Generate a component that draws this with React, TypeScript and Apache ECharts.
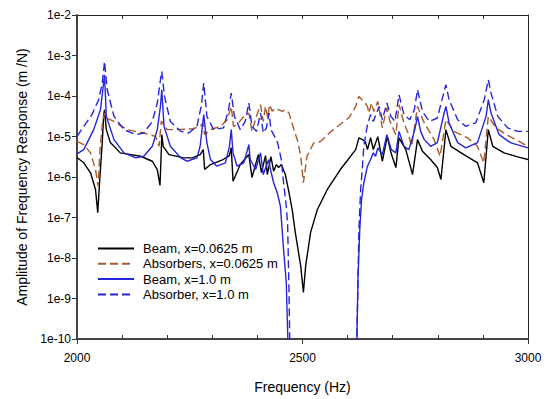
import { useEffect, useRef } from 'react';
import * as echarts from 'echarts';

const freqMin = 2000;
const freqMax = 3000;
const ampMin = 1e-10;
const ampMax = 1e-2;

const seriesNames = [
  'Beam, x=0.0625 m',
  'Absorbers, x=0.0625 m',
  'Beam, x=1.0 m',
  'Absorber, x=1.0 m',
];

// [frequency (Hz), amplitude (m/N)]
const beamNear: [number, number][] = [
  [2000, 3.02e-6], [2015, 2.24e-6], [2030, 1.27e-6], [2041, 4.92e-7], [2046, 1.32e-7], [2050, 7.2e-7],
  [2056, 7.07e-6], [2059, 3.14e-5], [2061, 4.59e-5], [2065, 1.48e-5], [2074, 7.07e-6], [2096, 3.94e-6],
  [2141, 3.25e-6], [2167, 2.45e-6], [2178, 1.53e-6], [2184, 6.18e-7], [2187, 4.75e-6], [2188, 1.11e-5],
  [2191, 5.73e-6], [2204, 3.58e-6], [2237, 2.97e-6], [2256, 2.97e-6], [2273, 3.58e-6], [2280, 4.75e-6],
  [2283, 1.53e-6], [2296, 2.03e-6], [2324, 2.7e-6], [2338, 3.38e-6], [2342, 5.32e-6], [2346, 7.89e-7],
  [2362, 2.03e-6], [2381, 3.58e-6], [2388, 9.73e-7], [2402, 3.58e-6], [2409, 1.29e-6], [2418, 3.38e-6],
  [2422, 1.15e-6], [2430, 3.2e-6], [2436, 1.39e-6], [2442, 2.03e-6], [2447, 1.71e-6], [2453, 2.03e-6],
  [2462, 1.15e-6], [2470, 4.16e-7], [2477, 1.58e-7], [2484, 4.3e-8], [2496, 6.37e-9], [2502, 1.41e-9],
  [2507, 6.37e-9], [2518, 4.3e-8], [2533, 1.58e-7], [2555, 4.92e-7], [2584, 1.53e-6], [2618, 4.75e-6],
  [2625, 9.23e-6], [2633, 8.38e-6], [2640, 7.07e-6], [2644, 4.75e-6], [2651, 9.38e-6], [2657, 4.75e-6],
  [2667, 9.93e-6], [2677, 2.45e-6], [2688, 1.01e-5], [2696, 4.01e-6], [2707, 1.71e-6], [2714, 9.23e-6],
  [2729, 4.75e-6], [2744, 1.15e-6], [2755, 8.38e-6], [2766, 4.31e-6], [2784, 2.7e-6], [2799, 1.71e-6],
  [2807, 8.67e-7], [2818, 1.48e-5], [2829, 5.73e-6], [2858, 3.58e-6], [2888, 2.24e-6], [2902, 7.2e-7],
  [2912, 1.48e-5], [2922, 5.73e-6], [2947, 3.94e-6], [2977, 3.14e-6], [3000, 2.7e-6],
];

const absorbersNear: [number, number][] = [
  [2000, 7.6e-6], [2015, 6.31e-6], [2030, 3.94e-6], [2041, 1.53e-6], [2047, 5.94e-7], [2051, 4.75e-6],
  [2056, 1.96e-5], [2061, 3.8e-5], [2066, 2.86e-5], [2082, 2.36e-5], [2111, 1.48e-5], [2148, 1.22e-5],
  [2174, 1.01e-5], [2182, 5.73e-6], [2187, 2.4e-5], [2200, 1.48e-5], [2222, 1.48e-5], [2256, 1.54e-5],
  [2273, 1.78e-5], [2279, 2.16e-5], [2283, 1.11e-5], [2296, 1.48e-5], [2318, 1.78e-5], [2333, 2.6e-5],
  [2342, 5.53e-5], [2347, 1.78e-5], [2355, 1.96e-5], [2370, 3.14e-5], [2381, 3.8e-5], [2388, 1.34e-5],
  [2399, 3.46e-5], [2407, 6.09e-5], [2413, 2.36e-5], [2418, 5.53e-5], [2423, 2.86e-5], [2427, 6.09e-5],
  [2433, 4.17e-5], [2440, 5.05e-5], [2447, 4.59e-5], [2455, 4.17e-5], [2462, 4.59e-5], [2470, 3.8e-5],
  [2481, 1.48e-5], [2489, 8.0e-6], [2496, 3.25e-6], [2502, 7.2e-7], [2510, 3.25e-6], [2525, 6.95e-6],
  [2540, 7.5e-6], [2562, 1.3e-5], [2584, 2.0e-5], [2604, 3.0e-5], [2618, 5.53e-5], [2625, 9.75e-5],
  [2636, 7.35e-5], [2644, 5.53e-5], [2647, 3.8e-5], [2653, 6.71e-5], [2658, 4.17e-5], [2667, 7.35e-5],
  [2677, 1.63e-5], [2687, 5.05e-5], [2694, 2.36e-5], [2707, 1.11e-5], [2714, 6.09e-5], [2725, 2.16e-5],
  [2734, 1.22e-5], [2742, 5.73e-6], [2755, 5.53e-5], [2770, 2.16e-5], [2792, 8.38e-6], [2805, 3.25e-6],
  [2818, 2.6e-5], [2836, 1.34e-5], [2866, 9.23e-6], [2888, 5.73e-6], [2902, 2.24e-6], [2912, 3.14e-5],
  [2929, 1.63e-5], [2959, 1.01e-5], [3000, 5.73e-6],
];

const beamFar: [number, number][] = [
  [2000, 3.72e-6], [2015, 4.75e-6], [2037, 1.48e-5], [2052, 4.59e-5], [2059, 2.08e-4], [2061, 3.33e-4],
  [2063, 1.07e-4], [2065, 3.14e-5], [2082, 8.38e-6], [2104, 3.94e-6], [2130, 2.97e-6], [2148, 3.25e-6],
  [2167, 5.73e-6], [2178, 1.48e-5], [2185, 5.53e-5], [2188, 1.43e-4], [2193, 1.78e-5], [2207, 5.73e-6],
  [2230, 2.97e-6], [2244, 2.45e-6], [2266, 2.97e-6], [2273, 5.73e-6], [2281, 3.46e-5], [2288, 7.07e-6],
  [2296, 2.7e-6], [2310, 1.85e-6], [2329, 2.24e-6], [2338, 5.73e-6], [2342, 1.48e-5], [2346, 3.94e-6],
  [2355, 1.85e-6], [2370, 2.24e-6], [2381, 6.31e-6], [2384, 2.7e-6], [2396, 1.53e-6], [2407, 3.94e-6],
  [2413, 1.15e-6], [2425, 2.7e-6], [2429, 1.53e-6], [2436, 7.2e-7], [2444, 4.08e-7], [2451, 1.91e-7],
  [2458, 1.64e-8], [2464, 2.49e-9], [2470, 1e-11], [2619, 1e-11], [2623, 3.0e-9], [2627, 5.1e-8],
  [2631, 2.79e-7], [2636, 7.2e-7], [2644, 1.85e-6], [2651, 2.7e-6], [2657, 3.94e-6], [2662, 3.25e-6],
  [2667, 5.24e-6], [2677, 3.58e-6], [2687, 1.11e-5], [2697, 4.75e-6], [2707, 3.94e-6], [2714, 1.34e-5],
  [2725, 5.73e-6], [2736, 4.75e-6], [2749, 1.48e-5], [2755, 3.14e-5], [2762, 1.34e-5], [2770, 8.38e-6],
  [2784, 5.73e-6], [2799, 7.07e-6], [2814, 3.8e-5], [2818, 5.53e-5], [2825, 2.16e-5], [2844, 7.07e-6],
  [2862, 5.24e-6], [2888, 7.07e-6], [2907, 3.14e-5], [2912, 8.09e-5], [2918, 3.8e-5], [2936, 1.11e-5],
  [2962, 6.95e-6], [3000, 5.24e-6],
];

const absorberFar: [number, number][] = [
  [2000, 1.01e-5], [2015, 1.78e-5], [2033, 3.46e-5], [2048, 8.09e-5], [2056, 2.08e-4], [2061, 7.09e-4],
  [2067, 1.43e-4], [2082, 3.14e-5], [2104, 1.48e-5], [2130, 1.11e-5], [2148, 1.22e-5], [2167, 2.36e-5],
  [2178, 6.71e-5], [2185, 2.51e-4], [2188, 4.02e-4], [2194, 9.75e-5], [2207, 2.36e-5], [2230, 1.34e-5],
  [2248, 1.22e-5], [2266, 1.78e-5], [2276, 6.0e-5], [2281, 2.08e-4], [2288, 3.14e-5], [2303, 1.48e-5],
  [2325, 1.63e-5], [2336, 4.59e-5], [2342, 1.18e-4], [2349, 3.14e-5], [2362, 1.48e-5], [2373, 2.36e-5],
  [2381, 6.71e-5], [2388, 1.78e-5], [2398, 1.34e-5], [2407, 3.8e-5], [2413, 1.22e-5], [2420, 1.63e-5],
  [2426, 3.8e-5], [2430, 1.48e-5], [2438, 1.01e-5], [2445, 6.95e-6], [2453, 2.7e-6], [2458, 7.2e-7],
  [2464, 1.91e-7], [2467, 6.78e-8], [2470, 1.7e-9], [2473, 1e-11], [2618, 1e-11], [2621, 1.76e-10],
  [2623, 2.5e-9], [2625, 5.1e-8], [2629, 4.92e-7], [2633, 1.85e-6], [2636, 5.73e-6], [2644, 1.96e-5],
  [2651, 3.46e-5], [2657, 2.36e-5], [2670, 5.53e-5], [2677, 2.6e-5], [2687, 6.71e-5], [2696, 3.14e-5],
  [2705, 2.36e-5], [2714, 1.07e-4], [2725, 3.46e-5], [2738, 2.6e-5], [2748, 4.6e-5], [2755, 1.43e-4],
  [2766, 4.17e-5], [2781, 2.36e-5], [2799, 2.86e-5], [2814, 1.29e-4], [2818, 1.89e-4], [2825, 8.09e-5],
  [2844, 2.6e-5], [2862, 1.78e-5], [2884, 2.16e-5], [2903, 8.09e-5], [2912, 2.51e-4], [2918, 1.18e-4],
  [2933, 3.14e-5], [2955, 1.63e-5], [2977, 1.34e-5], [3000, 1.34e-5],
];

const minorFreqTicks = [2100, 2200, 2300, 2400, 2600, 2700, 2800, 2900];

export default function App() {
  const ref = useRef<HTMLDivElement>(null);
  useEffect(() => {
    document.body.style.margin = '0';
    const chart = echarts.init(ref.current!, null, { renderer: 'svg' });
    const font = "'Liberation Sans', Arial, sans-serif";
    const blue = '#2626d8';
    const brown = '#a85a2c';
    chart.setOption({
      animation: false,
      backgroundColor: '#ffffff',
      textStyle: { fontFamily: font },
      grid: { left: 77, right: 22, top: 15, bottom: 59, containLabel: false },
      legend: {
        orient: 'vertical',
        left: 92,
        top: 237,
        itemWidth: 36,
        itemHeight: 14,
        itemGap: 2.3,
        data: seriesNames,
        itemStyle: { opacity: 0 },
        textStyle: { fontSize: 13, color: '#000', fontFamily: font, padding: [0, 0, 0, 4] },
      },
      xAxis: [
        {
          type: 'value', position: 'bottom', min: freqMin, max: freqMax, interval: 500,
          axisLine: { onZero: false, lineStyle: { color: '#444', width: 2 } },
          axisTick: { length: 5, lineStyle: { color: '#333', width: 1 } },
          axisLabel: { fontSize: 12, color: '#000', margin: 13, fontFamily: font, formatter: (v: number) => String(v) },
          splitLine: { show: false },
          name: 'Frequency (Hz)', nameLocation: 'middle', nameGap: 41,
          nameTextStyle: { fontSize: 14, color: '#000', fontFamily: font },
        },
        {
          type: 'value', position: 'bottom', min: freqMin, max: freqMax, interval: 100,
          axisLine: { show: false, onZero: false },
          axisTick: { inside: true, length: 4, customValues: minorFreqTicks, lineStyle: { color: '#333', width: 1 } },
          axisLabel: { show: false },
          splitLine: { show: false },
        },
        {
          type: 'value', position: 'top', min: freqMin, max: freqMax, interval: 100,
          axisLine: { onZero: false, lineStyle: { color: '#222', width: 1 } },
          axisTick: { inside: true, length: 4, lineStyle: { color: '#333', width: 1 } },
          axisLabel: { show: false },
          splitLine: { show: false },
        },
      ],
      yAxis: [
        {
          type: 'log', logBase: 10, min: ampMin, max: ampMax, splitNumber: 8,
          axisLine: { onZero: false, lineStyle: { color: '#444', width: 2 } },
          axisTick: { length: 5, lineStyle: { color: '#333', width: 1 } },
          axisLabel: {
            fontSize: 12, color: '#000', margin: 6, fontFamily: font,
            formatter: (v: number) => '1e' + Math.round(Math.log10(v)),
          },
          minorTick: { show: false },
          splitLine: { show: false },
          name: 'Amplitude of Frequency Response (m /N)', nameLocation: 'middle', nameGap: 47,
          nameTextStyle: { fontSize: 14, color: '#000', fontFamily: font },
        },
        {
          type: 'log', logBase: 10, min: ampMin, max: ampMax, position: 'right',
          axisLine: { show: true, onZero: false, lineStyle: { color: '#222', width: 1 } },
          axisTick: { show: false },
          axisLabel: { show: false },
          splitLine: { show: false },
        },
      ],
      series: [
        { name: seriesNames[0], type: 'line', data: beamNear, showSymbol: false, symbol: 'none', lineStyle: { color: '#000', width: 1.4 }, itemStyle: { color: '#000' } },
        { name: seriesNames[1], type: 'line', data: absorbersNear, showSymbol: false, symbol: 'none', lineStyle: { color: brown, width: 1.4, type: [8, 4] }, itemStyle: { color: brown } },
        { name: seriesNames[2], type: 'line', data: beamFar, showSymbol: false, symbol: 'none', lineStyle: { color: blue, width: 1.4 }, itemStyle: { color: blue } },
        { name: seriesNames[3], type: 'line', data: absorberFar, showSymbol: false, symbol: 'none', lineStyle: { color: blue, width: 1.4, type: [8, 4] }, itemStyle: { color: blue } },
      ],
    });
    return () => chart.dispose();
  }, []);
  return <div ref={ref} style={{ width: 550, height: 399 }} />;
}
